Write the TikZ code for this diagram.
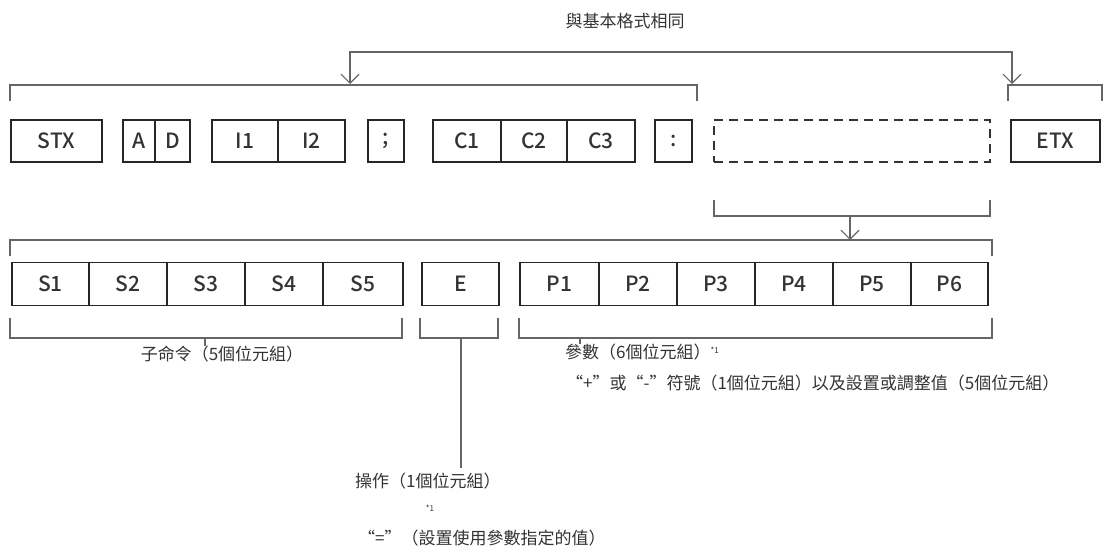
\documentclass[tikz,border=0pt]{standalone}
\usepackage{fontspec}
\setmainfont{Noto Sans CJK TC}
\newfontfamily\boxfont{Noto Sans CJK TC Medium}
\usetikzlibrary{arrows.meta}
\begin{document}
\begin{tikzpicture}[x=1pt,y=-1pt,
  cell/.style={draw=black!85,line width=1.6pt,minimum height=42pt,inner sep=0pt,font=\boxfont\fontsize{21}{21}\selectfont,text=black!80},
  br/.style={draw=black!60,line width=1.1pt},
  arr/.style={br,-{Straight Barb[length=9pt,width=18pt]}},
  lab/.style={font=\fontsize{17}{17}\selectfont,text=black!80,inner sep=0pt}]
\useasboundingbox (0,0) rectangle (1109,554);
% row 1
\foreach \n/\t/\a/\b in {stx/STX/11/102, a/A/123/155, d/D/155/190, i1/I1/212/278, i2/I2/278/345, semi/;/368/404, c1/C1/433/501, c2/C2/501/567, c3/C3/567/635, colon/:/655/692, etx/ETX/1011/1100}
  \node[cell,minimum width={\b-\a}] (\n) at ({(\a+\b)/2},141) {\t};
\node[cell,draw=black!80,dash pattern=on 9pt off 6pt,minimum width=276pt] (dash) at (852,141) {};
% top brackets and arrows
\node[lab] (same) at (625,21) {與基本格式相同};
\coordinate (t1) at (350,52); \coordinate (t2) at (1012,52);
\draw[br] (350,82) -- (t1) -- (t2) -- (1012,82);
\draw[arr] (350,60) -- (350,84);
\draw[arr] (1012,60) -- (1012,84);
\draw[br] (10,101) -- (10,85) -- (697,85) -- (697,101);
\draw[br] (1008,101) -- (1008,85) -- (1102,85) -- (1102,101);
\draw[br] (714,200) -- (714,216) -- (990,216) -- (990,200);
\draw[arr] (850,216) -- (850,240);
\draw[br] (10,256) -- (10,240) -- (992,240) -- (992,256);
% row 2
\foreach \n/\t/\a/\b in {s1/S1/12/89, s2/S2/89/167, s3/S3/167/245, s4/S4/245/323, s5/S5/323/403, e/E/422/499, p1/P1/520/599, p2/P2/599/677, p3/P3/677/755, p4/P4/755/833, p5/P5/833/911, p6/P6/911/988}
  \node[cell,minimum width={\b-\a},minimum height=43pt] (\n) at ({(\a+\b)/2},284) {\t};
% bottom brackets
\draw[br] (10,318) -- (10,338) -- (402,338) -- (402,318);
\draw[br] (420,318) -- (420,338) -- (498,338) -- (498,318);
\draw[br] (519,318) -- (519,338) -- (992,338) -- (992,318);
\node[lab] (sub) at (222,354) {子命令（5個位元組）};
\draw[br] (205,338) -- (205,346);
\node[lab,anchor=west] (par) at (565,352) {參數（6個位元組）\raisebox{5pt}{\fontsize{8}{8}\selectfont *1}};
\draw[br] (580,338) -- (580,344);
\node[lab,anchor=west] (sign) at (566,383) {“+”或“-”符號（1個位元組）以及設置或調整值（5個位元組）};
\draw[br] (461,338) -- (461,468);
\node[lab,anchor=west] (op) at (355,481) {操作（1個位元組）};
\node[lab,font=\fontsize{8}{8}\selectfont] (n1) at (430,508) {*1};
\node[lab,anchor=west] (eq) at (358,538) {“=”（設置使用參數指定的值）};
\end{tikzpicture}
\end{document}
